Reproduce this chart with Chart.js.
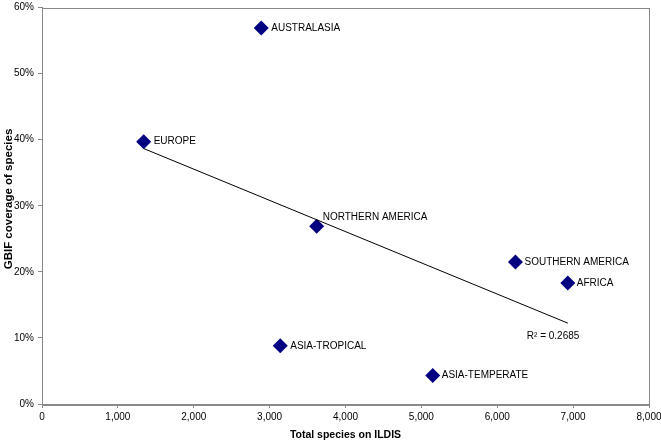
<!DOCTYPE html>
<html>
<head>
<meta charset="utf-8">
<script src="https://cdn.jsdelivr.net/npm/chart.js@4.4.0/dist/chart.umd.min.js"></script>
<style>
    html, body { margin: 0; padding: 0; background: #fff; }
</style>
</head>
<body>
<canvas id="ildisChart" width="661" height="440"></canvas>
<script>
var regions = ['AUSTRALASIA', 'EUROPE', 'NORTHERN AMERICA', 'SOUTHERN AMERICA', 'AFRICA', 'ASIA-TROPICAL', 'ASIA-TEMPERATE'];
var ildisSpecies = [2890, 1340, 3620, 6240, 6930, 3140, 5150];
var gbifCoverage = [56.9, 39.7, 26.9, 21.5, 18.3, 8.8, 4.3];
var xTicks = [0, 1000, 2000, 3000, 4000, 5000, 6000, 7000, 8000];
var yTicks = [0, 10, 20, 30, 40, 50, 60];
var rSquaredText = 'R² = 0.2685';

document.addEventListener('DOMContentLoaded', function () {
    var fontFamily = '"Liberation Sans", Arial, sans-serif';

    // least squares line, drawn between the smallest and largest x
    var n = ildisSpecies.length, mx = 0, my = 0;
    for (var i = 0; i < n; i++) { mx += ildisSpecies[i] / n; my += gbifCoverage[i] / n; }
    var sxy = 0, sxx = 0;
    for (var j = 0; j < n; j++) {
        sxy += (ildisSpecies[j] - mx) * (gbifCoverage[j] - my);
        sxx += (ildisSpecies[j] - mx) * (ildisSpecies[j] - mx);
    }
    var slope = sxy / sxx, icept = my - slope * mx;
    var x0 = Math.min.apply(null, ildisSpecies), x1 = Math.max.apply(null, ildisSpecies);
    var trend = [{ x: x0, y: icept + slope * x0 }, { x: x1, y: icept + slope * x1 }];

    var points = ildisSpecies.map(function (v, k) { return { x: v, y: gbifCoverage[k] }; });

    // label offsets from each marker, in pixels
    var labelOffsets = [[10, 0], [10, 0], [6, -9], [9, 0], [9, 0], [10, 0], [9, 0]];

    var labelPlugin = {
        id: 'regionLabels',
        afterDatasetsDraw: function (chart) {
            var ctx = chart.ctx, xs = chart.scales.x, ys = chart.scales.y;
            ctx.save();
            ctx.font = '10px ' + fontFamily;
            ctx.fillStyle = '#000';
            ctx.textBaseline = 'middle';
            regions.forEach(function (name, k) {
                ctx.fillText(name, xs.getPixelForValue(ildisSpecies[k]) + labelOffsets[k][0],
                    ys.getPixelForValue(gbifCoverage[k]) + labelOffsets[k][1]);
            });
            var ex = xs.getPixelForValue(trend[1].x), ey = ys.getPixelForValue(trend[1].y);
            ctx.fillText(rSquaredText, ex - 41, ey + 13);

            // y axis title, sits a little above the plot's middle like the original
            ctx.font = 'bold 11.5px ' + fontFamily;
            ctx.textAlign = 'center';
            ctx.translate(9, 199);
            ctx.rotate(-Math.PI / 2);
            ctx.fillText('GBIF coverage of species', 0, 0);
            ctx.restore();
        }
    };

    var framePlugin = {
        id: 'frame',
        beforeDatasetsDraw: function (chart) {
            var a = chart.chartArea, ctx = chart.ctx;
            ctx.save();
            ctx.strokeStyle = '#888';
            ctx.lineWidth = 1;
            ctx.strokeRect(Math.round(a.left) + 0.5, Math.round(a.top) + 0.5, Math.round(a.right - a.left), Math.round(a.bottom - a.top));
            ctx.restore();
        }
    };

    var ctx1 = document.getElementById('ildisChart').getContext('2d');
    var ildisChart = new Chart(ctx1, {
        type: 'scatter',
        data: {
            datasets: [{
                label: 'Regions',
                data: points,
                pointStyle: 'rectRot',
                pointRadius: 7.5,
                pointHoverRadius: 7.5,
                backgroundColor: '#000080',
                borderColor: '#000080',
                borderWidth: 0,
                order: 1
            }, {
                label: 'Trend',
                type: 'line',
                data: trend,
                borderColor: '#000',
                borderWidth: 1,
                pointRadius: 0,
                fill: false,
                order: 0
            }]
        },
        plugins: [framePlugin, labelPlugin],
        options: {
            responsive: false,
            animation: false,
            layout: { padding: { top: 5, right: 12, left: 0, bottom: 0 } },
            plugins: {
                legend: { display: false },
                tooltip: { enabled: false }
            },
            scales: {
                x: {
                    type: 'linear',
                    min: 0,
                    max: 8000,
                    afterBuildTicks: function (s) { s.ticks = xTicks.map(function (v) { return { value: v }; }); },
                    afterFit: function (s) { s.height = 36; s.paddingLeft = 0; s.paddingRight = 0; },
                    grid: { drawOnChartArea: false, tickLength: 4, color: '#888' },
                    border: { color: '#888' },
                    ticks: {
                        padding: 3,
                        color: '#000',
                        font: { family: fontFamily, size: 10 },
                        maxRotation: 0,
                        callback: function (v) { return v.toLocaleString('en-US'); }
                    },
                    title: {
                        display: true,
                        text: 'Total species on ILDIS',
                        color: '#000',
                        font: { family: fontFamily, size: 10.5, weight: 'bold' },
                        padding: { top: 0, bottom: -1 }
                    }
                },
                y: {
                    type: 'linear',
                    min: 0,
                    max: 60,
                    afterBuildTicks: function (s) { s.ticks = yTicks.map(function (v) { return { value: v }; }); },
                    afterFit: function (s) { s.width = 42; s.paddingTop = 0; s.paddingBottom = 0; },
                    grid: { drawOnChartArea: false, tickLength: 4, color: '#888' },
                    border: { color: '#888' },
                    ticks: {
                        padding: 4,
                        color: '#000',
                        font: { family: fontFamily, size: 10 },
                        callback: function (v) { return v + '%'; }
                    }
                }
            }
        }
    });
});
</script>
</body>
</html>
